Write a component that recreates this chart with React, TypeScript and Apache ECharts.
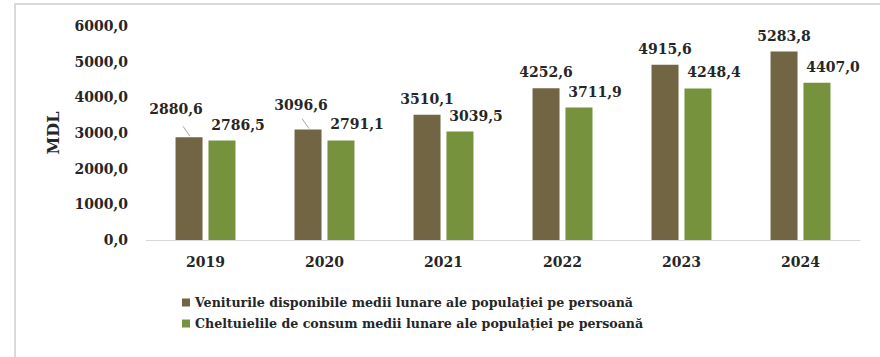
import React, { useEffect, useRef } from "react";
import * as echarts from "echarts";

const years = ["2019", "2020", "2021", "2022", "2023", "2024"];
const income = [2880.6, 3096.6, 3510.1, 4252.6, 4915.6, 5283.8];
const expenses = [2786.5, 2791.1, 3039.5, 3711.9, 4248.4, 4407.0];
const seriesNames = [
  "Veniturile disponibile medii lunare ale populației pe persoană",
  "Cheltuielile de consum medii lunare ale populației pe persoană",
];
const yTicks = { min: 0, max: 6000, interval: 1000 };
// income labels that were moved aside and get a leader line
const movedIncome = [0, 1];
const incomeLabelShift: Record<number, [number, number]> = {
  0: [-13, -12],
  1: [-7, -9],
};

const BAR_W = 27;
const BAR_GAP_PX = 6;

const fmt = (v: number) => v.toFixed(1).replace(".", ",");
const TEXT = "#262626";
const NUM_FONT = "DejaVu Serif";

export default function App() {
  const ref = useRef<HTMLDivElement>(null);
  useEffect(() => {
    if (!ref.current) return;
    const chart = echarts.init(ref.current, undefined, { renderer: "svg" });
    chart.setOption({
      animation: false,
      backgroundColor: "#ffffff",
      graphic: [
        {
          type: "rect",
          shape: { x: 15, y: 4, width: 900, height: 400 },
          style: { fill: "none", stroke: "#d9d9d9", lineWidth: 2 },
          silent: true,
        },
      ],
      grid: { left: 146, right: 20, top: 26, bottom: 117 },
      legend: {
        orient: "vertical",
        left: 182,
        top: 296,
        padding: 0,
        itemWidth: 8,
        itemHeight: 8,
        itemGap: 8,
        icon: "rect",
        textStyle: {
          fontFamily: NUM_FONT,
          fontWeight: "bold",
          fontSize: 12.6,
          color: TEXT,
        },
        data: seriesNames,
      },
      xAxis: {
        type: "category",
        data: years,
        axisLine: { lineStyle: { color: "#d9d9d9", width: 1 } },
        axisTick: { show: false },
        axisLabel: {
          fontFamily: NUM_FONT,
          fontWeight: "bold",
          fontSize: 14,
          color: TEXT,
          margin: 15,
        },
      },
      yAxis: {
        type: "value",
        min: yTicks.min,
        max: yTicks.max,
        interval: yTicks.interval,
        name: "MDL",
        nameLocation: "middle",
        nameGap: 85,
        nameTextStyle: {
          fontFamily: NUM_FONT,
          fontWeight: "bold",
          fontSize: 16,
          color: TEXT,
        },
        splitLine: { show: false },
        axisLine: { show: false },
        axisTick: { show: false },
        axisLabel: {
          fontFamily: NUM_FONT,
          fontWeight: "bold",
          fontSize: 14,
          color: TEXT,
          margin: 18,
          formatter: (v: number) => fmt(v),
        },
      },
      series: [
        {
          name: seriesNames[0],
          type: "bar",
          barWidth: BAR_W,
          barGap: ((BAR_GAP_PX / BAR_W) * 100).toFixed(0) + "%",
          itemStyle: { color: "#716544" },
          data: income,
          label: {
            show: true,
            position: "top",
            distance: 9,
            fontFamily: NUM_FONT,
            fontWeight: "bold",
            fontSize: 14,
            color: TEXT,
            formatter: (p: any) => fmt(p.value),
          },
          labelLayout: (p: any) => {
            const s = incomeLabelShift[p.dataIndex];
            return s ? { dx: s[0], dy: s[1] } : {};
          },
        },
        {
          name: seriesNames[1],
          type: "bar",
          barWidth: BAR_W,
          itemStyle: { color: "#76923c" },
          data: expenses,
          label: {
            show: true,
            position: "top",
            distance: 9,
            offset: [16, 0],
            fontFamily: NUM_FONT,
            fontWeight: "bold",
            fontSize: 14,
            color: TEXT,
            formatter: (p: any) => fmt(p.value),
          },
        },
        {
          type: "custom",
          silent: true,
          z: 5,
          data: movedIncome.map((i) => [i, income[i]]),
          encode: { x: 0, y: 1 },
          renderItem: (params: any, api: any) => {
            const pt = api.coord([api.value(0), api.value(1)]);
            const cx = pt[0] - (BAR_W + BAR_GAP_PX) / 2;
            const top = pt[1];
            return {
              type: "line",
              shape: { x1: cx - 6, y1: top - 11, x2: cx + 1, y2: top - 1 },
              style: { stroke: "#a6a6a6", lineWidth: 1 },
            };
          },
        },
      ],
    });
    return () => chart.dispose();
  }, []);
  return (
    <div
      ref={ref}
      style={{ position: "fixed", left: 0, top: 0, width: 880, height: 357 }}
    />
  );
}
